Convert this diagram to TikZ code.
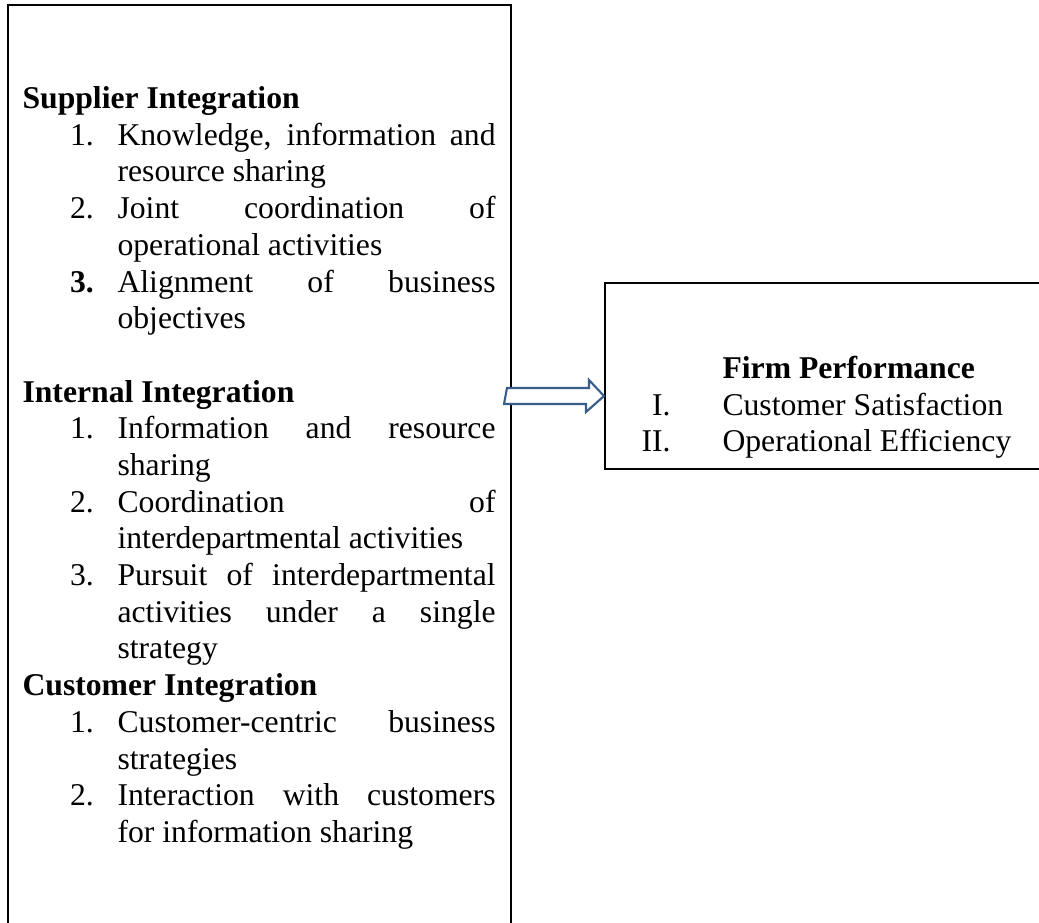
\documentclass[tikz,border=0pt]{standalone}
\usepackage{fontspec}
\setmainfont{Liberation Serif}
\usepackage{tikz}
\usetikzlibrary{calc}
\definecolor{arrowblue}{HTML}{385D8A}
\setlength{\parindent}{0pt}
\tolerance=10000
\hbadness=10000
\hyphenpenalty=10000
\newcommand{\pxu}{0.3788pt}
% numbered line, number in the hanging part
\newcommand{\intitem}[2]{\par{\leftskip=36pt\noindent\llap{\makebox[18pt][l]{#1}}#2\par}}
\tikzset{
    boxframe/.style={
           rectangle,
           draw=black, line width=0.75pt,
           inner sep=0pt,
           },
    listtext/.style={
           inner sep=0pt,
           font=\fontsize{12}{13.9}\selectfont,
           },
    blockarrow/.style={
           draw=arrowblue, line width=0.8pt,
           fill=white,
           },
}
\begin{document}
\begin{tikzpicture}[x=\pxu, y=-\pxu]
    \useasboundingbox (0,0) rectangle (1039,922);

    % left box: the three integration dimensions
    \node[boxframe,
    minimum width=503*\pxu,
    minimum height=1000*\pxu,
    anchor=north west] (integ) at (7,4) {};

    \node[listtext,
    text width=179.2pt, 	% width of the justified text
    align=justify,
    anchor=north west] (intlist) at (22,81.6)
    {\rule{0pt}{10pt}\textbf{Supplier Integration}\par
     \intitem{1.}{Knowledge, information and\linebreak resource sharing}
     \intitem{2.}{Joint coordination of\linebreak operational activities}
     \intitem{\textbf{3.}}{Alignment of business\linebreak objectives}
     \vskip 13.9pt
     \textbf{Internal Integration}\par
     \intitem{1.}{Information and resource\linebreak sharing}
     \intitem{2.}{Coordination of\linebreak interdepartmental activities}
     \intitem{3.}{Pursuit of interdepartmental\linebreak activities under a single\linebreak strategy}
     \textbf{Customer Integration}\par
     \intitem{1.}{Customer-centric business\linebreak strategies}
     \intitem{2.}{Interaction with customers\linebreak for information sharing}};

    % right box: firm performance
    \node[boxframe,
    minimum width=500*\pxu,
    minimum height=186*\pxu,
    anchor=north west] (perf) at (604,282) {};

    \node[listtext,
    align=left,
    anchor=north west] (perflist) at (722,351.6)
    {\rule{0pt}{10pt}\textbf{Firm Performance}\\
     \llap{I.\hspace{19.7pt}}Customer Satisfaction\\
     \llap{II.\hspace{19.7pt}}Operational Efficiency};

    % hollow block arrow between the boxes
    \coordinate (tip) at (perf.west |- 0,396);
    \coordinate (tail) at ($(integ.east |- tip)+(-5,0)$);
    \draw[blockarrow] (tail) ++(0,-8) -- ++(82,0) -- ++(0,-8) -- (tip)
        -- ++(-18,16) -- ++(0,-8) -- ++(-82,0) -- cycle;
\end{tikzpicture}
\end{document}
